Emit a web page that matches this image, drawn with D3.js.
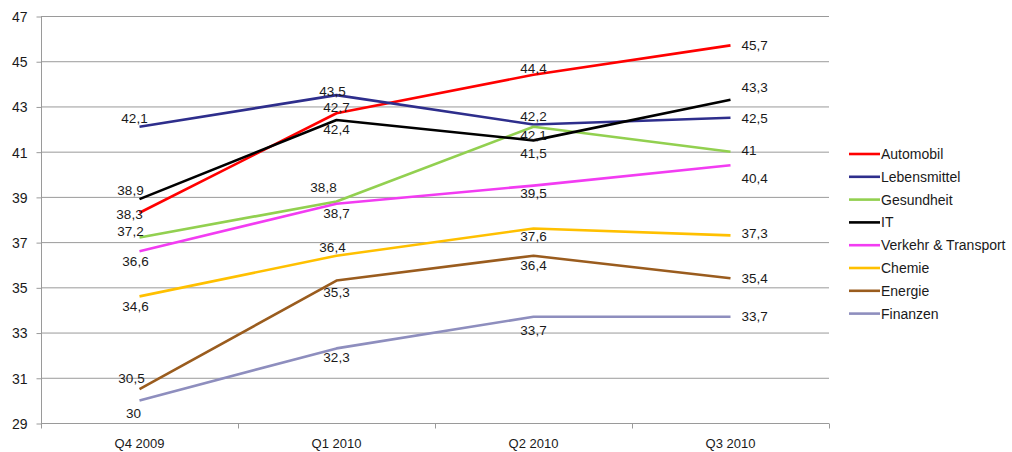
<!DOCTYPE html>
<html>
<head>
<meta charset="utf-8">
<script src="https://cdn.jsdelivr.net/npm/d3@7"></script>
<style>
  body { margin: 0; background: #fff; }
  svg { display: block; font-family: "Liberation Sans", Arial, sans-serif; }
  .grid line { stroke: #9a9a9a; stroke-width: 1; }
  .label { font-size: 13px; fill: #1a1a1a; }
</style>
</head>
<body>
<div id="chart"></div>
<script>
// quarters on the x axis
const quarters = ["Q4 2009", "Q1 2010", "Q2 2010", "Q3 2010"]

// industries, one line each
const industries = ["Automobil", "Lebensmittel", "Gesundheit", "IT", "Verkehr & Transport", "Chemie", "Energie", "Finanzen"]

const automobil = [38.3, 42.7, 44.4, 45.7]
const lebensmittel = [42.1, 43.5, 42.2, 42.5]
const gesundheit = [37.2, 38.8, 42.1, 41]
const it = [38.9, 42.4, 41.5, 43.3]
const verkehr = [36.6, 38.7, 39.5, 40.4]
const chemie = [34.6, 36.4, 37.6, 37.3]
const energie = [30.5, 35.3, 36.4, 35.4]
const finanzen = [30, 32.3, 33.7, 33.7]

const yTicks = [29, 31, 33, 35, 37, 39, 41, 43, 45, 47]

const seriesValues = [automobil, lebensmittel, gesundheit, it, verkehr, chemie, energie, finanzen]
const colours = ["#ff0000", "#2e2e8c", "#92d050", "#000000", "#f23cf2", "#ffc000", "#9a5c1e", "#8e8ebe"]

// where each data label sits relative to its point [dx, dy of the text centre]
const labelOffsets = [
  [[-10, 2], [0, -6], [0, -7], [0, 0]],
  [[-5, -9], [-4, -4], [0, -8], [0, 1]],
  [[-9, -6], [-13, -14], [0, 8], [0, -1]],
  [[-9, -9], [0, 9], [0, 13], [0, -12]],
  [[-4, 10], [0, 10], [0, 8], [0, 13]],
  [[-4, 10], [-4, -8], [0, 8], [0, -2]],
  [[-8, -11], [0, 12], [0, 10], [0, 0]],
  [[-6, 13], [0, 9], [0, 14], [0, 0]]
]

const width = 1012
const height = 452
const plot = {left: 41, right: 829, top: 16, bottom: 423}

const deFormat = d3.formatLocale({decimal: ",", thousands: ".", grouping: [3], currency: ["", "€"]}).format("~g")

const svg = d3.select("#chart").append("svg")
  .attr("width", width)
  .attr("height", height)

const xScale = d3.scaleBand()
  .domain(quarters)
  .range([plot.left, plot.right])

const yScale = d3.scaleLinear()
  .domain([29, 47])
  .range([plot.bottom, plot.top])

const cx = q => xScale(q) + xScale.bandwidth() / 2

// horizontal gridlines
svg.append("g")
  .attr("class", "grid")
  .selectAll("line")
  .data(yTicks)
  .join("line")
  .attr("x1", plot.left)
  .attr("x2", plot.right)
  .attr("y1", d => yScale(d) + 0.5)
  .attr("y2", d => yScale(d) + 0.5)

// y axis
const yAxis = svg.append("g")
  .attr("transform", "translate(" + (plot.left + 0.5) + ",0.5)")
  .call(d3.axisLeft(yScale).tickValues(yTicks).tickSize(5).tickPadding(9).tickSizeOuter(0))
yAxis.select(".domain").attr("stroke", "#9a9a9a").attr("d", "M0," + plot.top + "V" + (plot.bottom + 5))
yAxis.selectAll(".tick line").attr("stroke", "#9a9a9a")
yAxis.selectAll(".tick text").attr("class", "label").attr("fill", "#1a1a1a").style("font-size", "14px").attr("dy", "0.35em")

// x axis: ticks at band boundaries
const xAxis = svg.append("g")
  .attr("transform", "translate(0," + (plot.bottom + 0.5) + ")")
xAxis.append("line")
  .attr("x1", plot.left).attr("x2", plot.right)
  .attr("stroke", "#9a9a9a")
xAxis.selectAll(".bound")
  .data(quarters.slice(1).concat([null]))
  .join("line")
  .attr("class", "bound")
  .attr("x1", d => (d ? xScale(d) : plot.right) + 0.5)
  .attr("x2", d => (d ? xScale(d) : plot.right) + 0.5)
  .attr("y1", 0).attr("y2", 5)
  .attr("stroke", "#9a9a9a")
xAxis.selectAll("text")
  .data(quarters)
  .join("text")
  .attr("class", "label")
  .attr("x", d => cx(d))
  .attr("y", 24)
  .attr("text-anchor", "middle")
  .text(d => d)

// lines
const line = d3.line()
  .x((d, i) => cx(quarters[i]))
  .y(d => yScale(d))

svg.append("g")
  .selectAll("path")
  .data(seriesValues)
  .join("path")
  .attr("d", d => line(d))
  .attr("fill", "none")
  .attr("stroke", (d, i) => colours[i])
  .attr("stroke-width", 2.6)
  .attr("stroke-linejoin", "round")

// data labels
seriesValues.forEach((values, s) => {
  svg.append("g")
    .selectAll("text")
    .data(values)
    .join("text")
    .attr("class", "label")
    .attr("x", (d, i) => i === quarters.length - 1 ? cx(quarters[i]) + 11 : cx(quarters[i]) + labelOffsets[s][i][0])
    .attr("y", (d, i) => yScale(d) + labelOffsets[s][i][1])
    .attr("dy", "0.35em")
    .attr("text-anchor", (d, i) => i === quarters.length - 1 ? "start" : "middle")
    .style("font-size", "13.5px")
    .text(d => deFormat(d))
})

// legend
const legend = svg.append("g")
  .attr("transform", "translate(849,154)")

industries.forEach((name, i) => {
  const row = legend.append("g").attr("transform", "translate(0," + (i * 22.8) + ")")
  row.append("line")
    .attr("x1", 0).attr("x2", 31)
    .attr("stroke", colours[i])
    .attr("stroke-width", 2.6)
  row.append("text")
    .attr("class", "label")
    .attr("x", 32)
    .attr("dy", "0.35em")
    .style("font-size", "14px")
    .text(name)
})
</script>
</body>
</html>
